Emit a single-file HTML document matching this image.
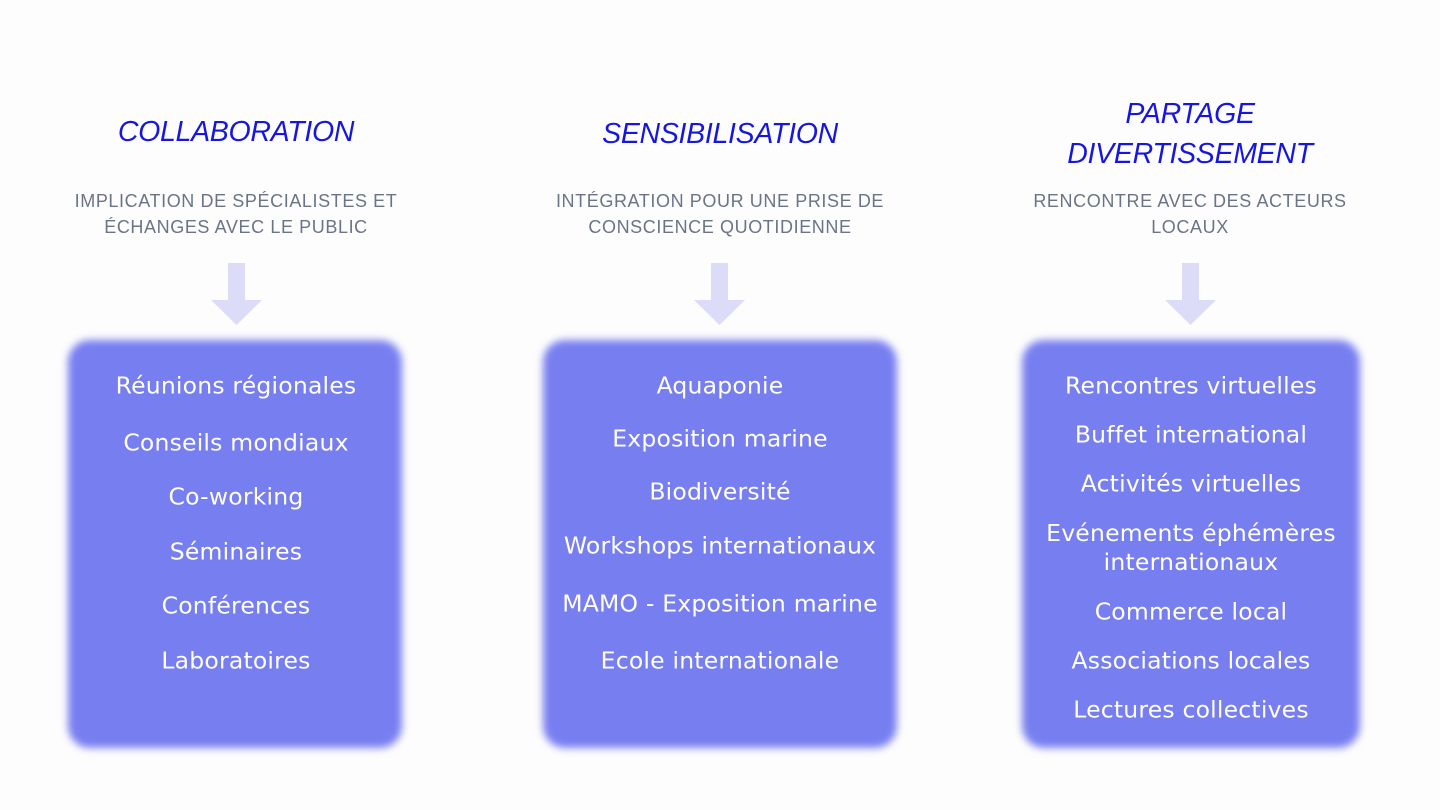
<!DOCTYPE html>
<html><head><meta charset="utf-8"><style>
body{margin:0;width:1440px;height:810px;background:#fdfdfd;position:relative;overflow:hidden;font-family:"Liberation Sans",sans-serif}
.t{position:absolute;color:#1616e0;font-style:italic;font-size:28.5px;text-align:center;width:400px;line-height:40px;letter-spacing:-0.3px}
.s{position:absolute;color:#6b7486;font-size:18px;text-align:center;width:400px;line-height:26px;letter-spacing:0.6px}
.box{position:absolute;background:#777ef0;border-radius:22px;filter:blur(4px)}
.it{position:absolute;color:#fff;font-family:"DejaVu Sans",sans-serif;font-size:23.5px;letter-spacing:0.2px;text-align:center;width:400px;line-height:29px;transform:translateY(-50%)}
.ar{position:absolute}
</style></head><body>
<div class="t" style="left:36px;top:112px">COLLABORATION</div>
<div class="t" style="left:520px;top:114px">SENSIBILISATION</div>
<div class="t" style="left:990px;top:94px">PARTAGE<br>DIVERTISSEMENT</div>
<div class="s" style="left:36px;top:188px">IMPLICATION DE SPÉCIALISTES ET<br>ÉCHANGES AVEC LE PUBLIC</div>
<div class="s" style="left:520px;top:188px">INTÉGRATION POUR UNE PRISE DE<br>CONSCIENCE QUOTIDIENNE</div>
<div class="s" style="left:990px;top:188px">RENCONTRE AVEC DES ACTEURS<br>LOCAUX</div>
<svg class="ar" style="left:0;top:0" width="1440" height="810">
<g fill="#dcdcf8">
<rect x="228" y="263" width="17" height="38"/><polygon points="211,300 262,300 236.5,325"/>
<rect x="711" y="263" width="17" height="38"/><polygon points="694,300 745,300 719.5,325"/>
<rect x="1182" y="263" width="17" height="38"/><polygon points="1165,300 1216,300 1190.5,325"/>
</g></svg>
<div class="box" style="left:68px;top:340px;width:334px;height:408px"></div>
<div class="box" style="left:543px;top:340px;width:354px;height:408px"></div>
<div class="box" style="left:1022px;top:340px;width:338px;height:408px"></div>
<div class="it" style="left:36px;top:386px">Réunions régionales</div>
<div class="it" style="left:36px;top:443px">Conseils mondiaux</div>
<div class="it" style="left:36px;top:497px">Co-working</div>
<div class="it" style="left:36px;top:552px">Séminaires</div>
<div class="it" style="left:36px;top:606px">Conférences</div>
<div class="it" style="left:36px;top:661px">Laboratoires</div>
<div class="it" style="left:520px;top:386px">Aquaponie</div>
<div class="it" style="left:520px;top:439px">Exposition marine</div>
<div class="it" style="left:520px;top:492px">Biodiversité</div>
<div class="it" style="left:520px;top:546px">Workshops internationaux</div>
<div class="it" style="left:520px;top:604px">MAMO - Exposition marine</div>
<div class="it" style="left:520px;top:661px">Ecole internationale</div>
<div class="it" style="left:991px;top:386px">Rencontres virtuelles</div>
<div class="it" style="left:991px;top:435px">Buffet international</div>
<div class="it" style="left:991px;top:484px">Activités virtuelles</div>
<div class="it" style="left:991px;top:548px">Evénements éphémères<br>internationaux</div>
<div class="it" style="left:991px;top:612px">Commerce local</div>
<div class="it" style="left:991px;top:661px">Associations locales</div>
<div class="it" style="left:991px;top:710px">Lectures collectives</div>
</body></html>
